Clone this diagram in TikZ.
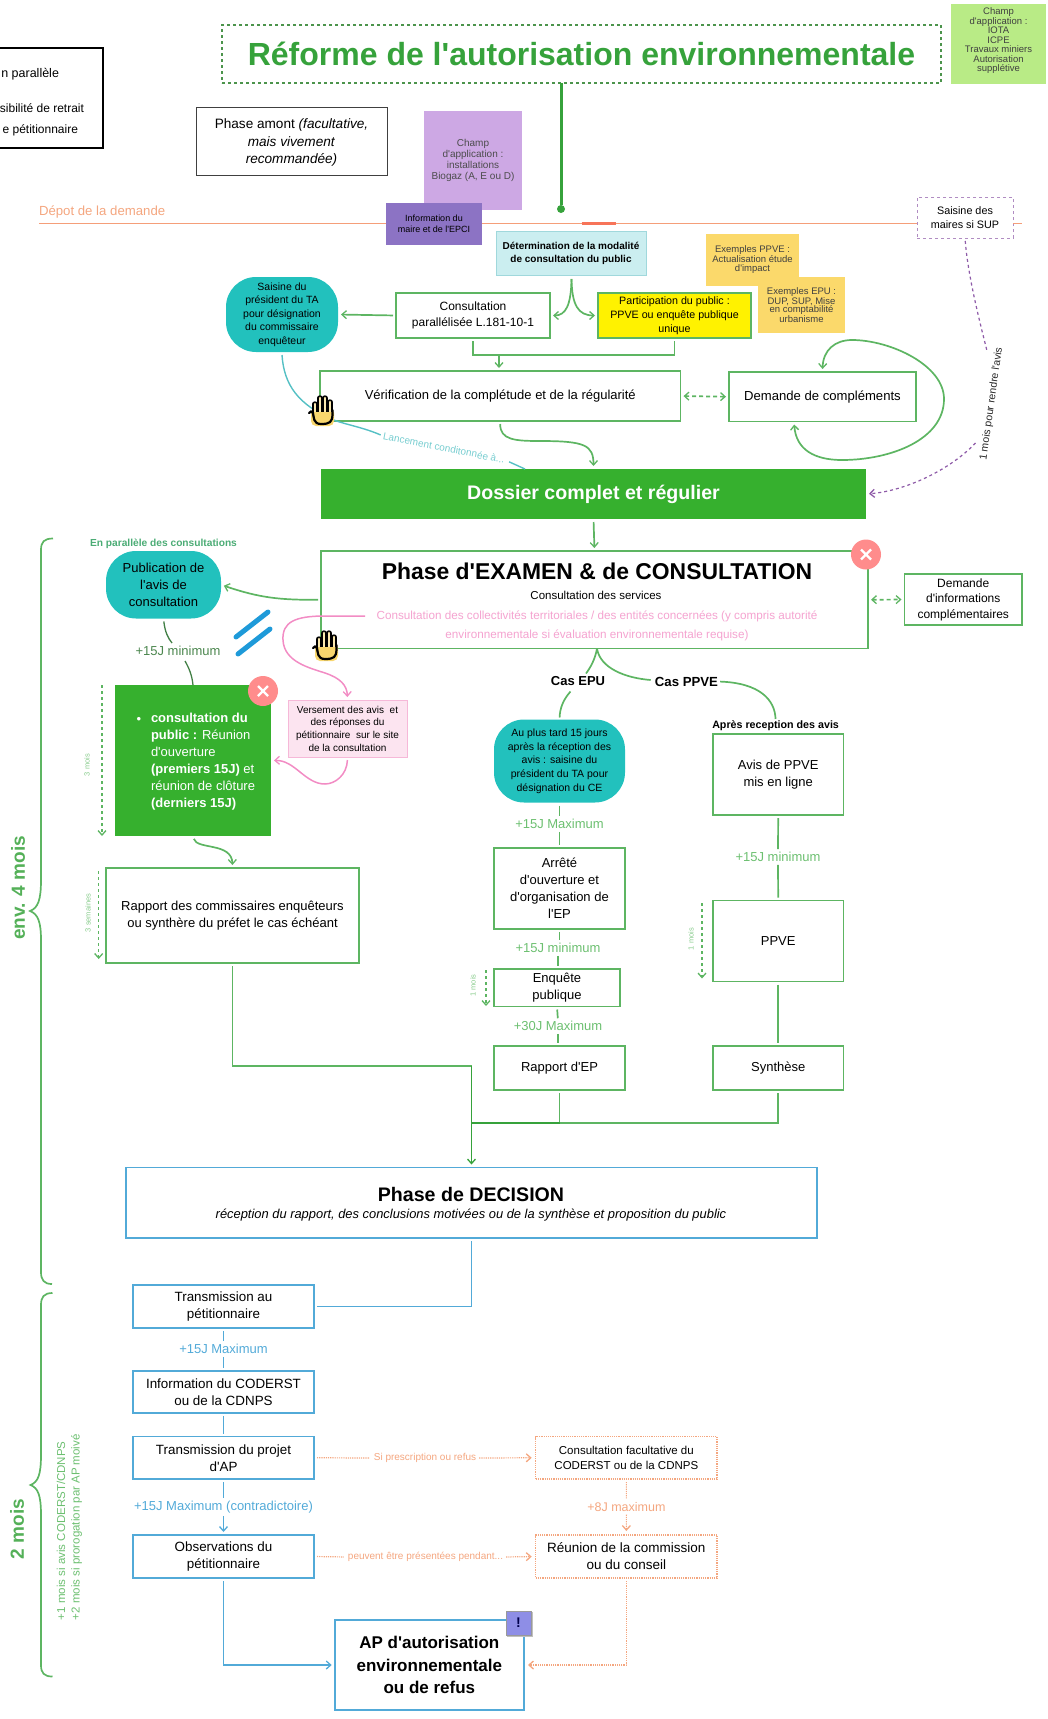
\documentclass[tikz,border=0pt]{standalone}
\usepackage{fontspec}
\setmainfont{Liberation Sans}[Ligatures=TeXOff]
\usetikzlibrary{arrows.meta,calc}
\definecolor{gl}{HTML}{5DB562}
\definecolor{gt}{HTML}{36A23B}
\definecolor{gf}{HTML}{36B02E}
\definecolor{gtx}{HTML}{6CBF70}
\definecolor{bl}{HTML}{52AAD8}
\definecolor{ol}{HTML}{F4A67F}
\definecolor{pk}{HTML}{F28CC4}
\definecolor{te}{HTML}{22C1BD}
\definecolor{tl}{HTML}{55C0C4}
\definecolor{pu}{HTML}{8E5BA8}
\definecolor{hy}{HTML}{F8D66D}
\newcommand\fz[2]{\fontsize{#1}{#2}\selectfont}
\newcommand\bx[7]{\pgfmathsetmacro\bxw{#5-#3}\pgfmathsetmacro\bxh{#6-#4}\pgfmathsetmacro\bxx{(#3+#5)/2}\pgfmathsetmacro\bxy{(#4+#6)/2}\node[#1,minimum width=\bxw pt,minimum height=\bxh pt] (#2) at (\bxx,\bxy) {#7};}
\tikzset{
  x=1pt,y=-1pt,
  every node/.style={inner sep=0pt,outer sep=0pt,align=center,text=black},
  >={Straight Barb[length=4.5pt,width=8pt,line width=1.3pt]},
  gbox/.style={draw=gl,line width=1.7pt,fill=white,font=\fz{13}{17}},
  bbox/.style={draw=bl,line width=1.7pt,fill=white,font=\fz{13.4}{17}},
  obox/.style={draw=ol,line width=1.2pt,densely dotted,fill=white,font=\fz{13.5}{17}},
  teal blob/.style={fill=te,rounded corners=30pt},
  gc/.style={draw=gl,line width=1.7pt},
  ga/.style={gc,->,shorten >=3pt,shorten <=3pt},
  gdash/.style={draw=gl,line width=1.3pt,dashed,dash pattern=on 3pt off 3pt,->},
  bc/.style={draw=bl,line width=1.8pt},
  oc/.style={draw=ol,line width=1.2pt,densely dotted},
  pc/.style={draw=pk,line width=1.5pt},
  gtime/.style={text=gtx,font=\fz{13}{14}},
  gsmall/.style={text=gtx!80,font=\fz{7.5}{8},rotate=90},
  btime/.style={text=bl,font=\fz{13}{14}},
  otime/.style={text=ol,font=\fz{10}{11}},
  redx/.style={circle,fill=red!45!white,minimum size=30pt},
  hand/.pic={
    \fill[hy,rounded corners=5pt] (-10,-2) rectangle (13,16);
    \foreach \hx/\hs in {-6/-6,-1/-12,4/-12,9/-8}{
      \draw[black,line width=5.4pt,line cap=round] (\hx,\hs) -- (\hx,4);
      \draw[hy!55!white,line width=2.6pt,line cap=round] (\hx,\hs) -- (\hx,4);
    }
    \fill[hy] (-8,2) rectangle (11,11);
    \draw[black,line width=2.2pt,line cap=round] (-12,3) .. controls (-11,1) and (-9,1) .. (-8,3) .. controls (-7,7) and (-8,14) .. (0,14) .. controls (9,14) and (11,12) .. (11.5,5) -- (11.5,0);
  }
}
\begin{document}
\begin{tikzpicture}
\useasboundingbox (0,0) rectangle (1048,1719);
% top
\bx{draw=black,line width=1.5pt}{legend}{-5}{48}{103}{148}{}
\node[anchor=east,font=\fz{12.5}{14},text=black] (leg1) at (59,74) {n parallèle};
\node[anchor=east,font=\fz{12}{14},text=black] (leg2) at (84,108) {sibilité de retrait};
\node[anchor=east,font=\fz{12}{14},text=black] (leg3) at (78,130) {e pétitionnaire};
\bx{draw=black!60!green!70,line width=1.2pt,dashed,dash pattern=on 3pt off 3pt,font=\fz{32}{34}\bfseries,text=gt}{title}{222}{25}{941}{83}{Réforme de l'autorisation environnementale}
\bx{fill={rgb,255:red,185;green,235;blue,134}}{champa}{951}{4}{1046}{84}{}
\node[font=\fz{9.5}{9.5},text=black!75] (champt) at (998.5,41) {Champ\\d'application :\\IOTA\\ICPE\\Travaux miniers\\Autorisation\\supplétive};
\bx{draw=black!75,line width=1pt}{amont}{196}{107}{387}{175}{}
\node[font=\fz{13.6}{17.2}] (amontt) at (291.5,142.5) {Phase amont \textit{(facultative,}\\\textit{mais vivement}\\\textit{recommandée)}};
\bx{fill={rgb,255:red,205;green,168;blue,228},font=\fz{10}{11},text=black!70}{champb}{424}{111}{522}{210}{Champ\\d'application :\\installations\\Biogaz (A, E ou D)}
\node[anchor=west,text=ol,font=\fz{13.2}{15}] (depot) at (39,212) {Dépot de la demande};
\coordinate (depl) at (39,223.5);
\coordinate (depr) at (1022,223.5);
\coordinate (depa) at (581.5,223.5);
\coordinate (depb) at (616,223.5);
\bx{fill={rgb,255:red,140;green,115;blue,196},font=\fz{9}{11.5},text=black}{infom}{386}{203}{482}{245}{Information du\\maire et de l'EPCI}
\bx{draw=pu!70,line width=1pt,dashed,dash pattern=on 3pt off 3pt,font=\fz{10.8}{14},fill=white}{saism}{917}{197}{1013}{238}{Saisine des\\maires si SUP}
\draw[draw=ol!95!red,line width=1.9pt] (depl) -- (infom.west |- depl) (infom.east |- depl) -- (saism.west |- depl) (saism.east |- depl) -- (depr);
\draw[draw=ol!70!red,line width=2.2pt] (depa) -- (depb);
\node[circle,fill=gt,minimum size=8pt] (dotn) at (561,209) {};
\draw[draw=gt,line width=3pt] (title.south -| dotn) -- (dotn);
\bx{fill={rgb,255:red,203;green,238;blue,240},draw={rgb,255:red,160;green,216;blue,220},line width=1pt,font=\fz{10}{13}\bfseries}{deter}{496}{231}{646}{275}{Détermination de la modalité\\de consultation du public}
\bx{fill={rgb,255:red,251;green,217;blue,107},font=\fz{9.5}{9.5},text=black!75}{exppve}{706}{234}{799}{286}{Exemples PPVE :\\Actualisation étude\\d'impact}
\bx{fill={rgb,255:red,251;green,217;blue,107},font=\fz{9.5}{8.7},text=black!75}{exepu}{758}{277}{845}{333}{Exemples EPU :\\DUP, SUP, Mise\\en comptabilité\\urbanisme}
\bx{fill={rgb,255:red,255;green,242;blue,0},draw=gl,line width=1.7pt,font=\fz{10.7}{14}}{part}{598}{293}{751}{338}{Participation du public :\\PPVE ou enquête publique\\unique}
\bx{gbox,font=\fz{12}{16}}{consu}{396}{293}{550}{338}{Consultation\\parallélisée L.181-10-1}
\bx{teal blob,font=\fz{10.5}{13.5}}{saita}{226}{277}{338}{352}{Saisine du\\président du TA\\pour désignation\\du commissaire\\enquêteur}
\draw[ga] (consu.west) -- (saita.east);
\coordinate (ds) at (571.5,279);
\draw[ga,shorten <=0pt] (ds) .. controls (571,305) and (566,315.5) .. (consu.east);
\draw[ga,shorten <=0pt] (ds) .. controls (572,305) and (578,315.5) .. (part.west);
\bx{gbox}{verif}{320}{371}{680.5}{421}{Vérification de la complétude et de la régularité}
\bx{gbox,font=\fz{13.1}{16}}{demc}{729}{372}{916}{421.5}{Demande de compléments}
\coordinate (vj) at (499,355);
\draw[gc,shorten <=3pt] (consu.south) |- (vj);
\draw[gc,shorten >=3pt] (vj) -| (part.south);
\draw[ga,shorten <=0pt] (vj) -- (verif.north -| vj);
\draw[gc,dashed,dash pattern=on 4pt off 3pt,<->,shorten >=3pt,shorten <=3pt] (verif.east) -- (demc.west);
\coordinate (lb) at (794,421.5);
\draw[gc,<->,shorten >=3pt,shorten <=3pt] (lb) .. controls (796,450) and (815,460) .. (842,460) .. controls (890,460) and (944,440) .. (944,399) .. controls (944,365) and (890,340) .. (852,340) .. controls (835,340) and (823,350) .. (demc.north);
\bx{fill=gf,font=\fz{19.6}{21}\bfseries,text=white}{dossier}{321}{469}{866}{519}{\raisebox{-1.5pt}{Dossier complet et régulier}}
\draw[ga] (verif.south) .. controls (500,440) and (515,441) .. (540,441) .. controls (585,441) and (593.5,445) .. (dossier.north);
\node[rotate=-11,text=tl!80,font=\fz{10}{11}] (lanc) at (444,448) {Lancement conditonnée à...};
\coordinate (tlend) at (525,469);
\draw[draw=tl,line width=1.4pt,shorten >=3pt] (saita.south) ++(0,3) .. controls (284,385) and (298,405) .. (335,420.5) .. controls (348,425) and (365,428) .. (lanc.west);
\draw[draw=tl,line width=1.4pt,shorten <=5pt] (lanc.east) -- (tlend);
\path (321,410) pic {hand};
\coordinate (pd1) at (987,351);
\coordinate (pd2) at (975.5,443);
\node[rotate=82,font=\fz{10.5}{11},text=black!85] (mois) at (991.5,404) {1 mois pour rendre l'avis};
\draw[draw=pu,line width=1.2pt,dashed,dash pattern=on 3pt off 3pt,shorten <=3pt] (saism.south) .. controls (968,275) and (978,315) .. (pd1);
\draw[draw=pu,line width=1.2pt,dashed,dash pattern=on 3pt off 3pt,->,shorten >=3pt] (pd2) .. controls (950,470) and (905,491) .. (dossier.east);
% phase examen
\node[text=gtx!70!teal,font=\fz{10.2}{11}\bfseries] (enpar) at (163.5,544) {En parallèle des consultations};
\bx{teal blob,font=\fz{13}{17}}{pub}{106}{551}{221}{618.5}{Publication de\\l'avis de\\consultation}
\bx{gbox}{phase}{321}{551}{868}{648.5}{}
\node[font=\fz{22.9}{24}\bfseries] (phtit) at (597,571) {Phase d'EXAMEN \& de CONSULTATION};
\node[font=\fz{11.5}{14}] (phsub) at (596,595) {Consultation des services};
\node[font=\fz{11.7}{19.5},text=pk!80] (phpink) at (597,626) {Consultation des collectivités territoriales / des entités concernées (y compris autorité\\environnementale si évaluation environnementale requise)};
\bx{gbox,font=\fz{12}{15.5}}{dinfo}{904.5}{574}{1022}{625}{Demande\\d'informations\\complémentaires}
\draw[gc,dashed,dash pattern=on 4pt off 3pt,<->,shorten >=3pt,shorten <=3pt] (phase.east) -- (dinfo.west);
\draw[ga] (dossier.south) -- (phase.north);
\draw[ga] (phase.west) .. controls (280,600) and (260,598) .. (pub.east);
\node[text=gtx!70!black,font=\fz{13}{15}] (l15a) at (178,651) {+15J minimum};
\coordinate (la1) at (172,643);
\coordinate (la2) at (185,661);
\bx{fill=gf}{cons}{115}{685}{271}{836}{}
\node[text=white,anchor=north west,align=left,font=\fz{13}{16.9}] (constx) at (151,713.5) {\textbf{consultation du}\\\textbf{public :} Réunion\\d'ouverture\\\textbf{(premiers 15J)} et\\réunion de clôture\\\textbf{(derniers 15J)}};
\node[text=white,font=\fz{13}{15}] (consbul) at (139,720) {•};
\draw[draw=gl!70!black,line width=1.3pt,shorten <=3pt] (pub.south) .. controls (165,632) and (168,638) .. (la1);
\draw[draw=gl!70!black,line width=1.3pt] (la2) .. controls (189,668) and (192,675) .. (cons.north);
\coordinate (sl1a) at (236,637);\coordinate (sl1b) at (268,612);\coordinate (sl2a) at (238,654);\coordinate (sl2b) at (270,629);
\draw[draw={rgb,255:red,30;green,154;blue,217},line width=5pt,line cap=round] (sl1a) -- (sl1b) (sl2a) -- (sl2b);
\coordinate (pks) at (365,616);
\bx{fill={rgb,255:red,252;green,228;blue,240},draw={rgb,255:red,246;green,184;blue,216},line width=1pt,font=\fz{10}{12.7}}{vers}{288}{700}{407}{757}{Versement des avis\ \ et\\des réponses du\\pétitionnaire\ \ sur le site\\de la consultation}
\draw[pc,->,shorten >=3pt] (pks) -- (325,616) .. controls (295,616) and (282,622) .. (283,640) .. controls (284,662) and (310,668) .. (325,673) .. controls (340,678) and (347,685) .. (vers.north);
\draw[pc,->,shorten >=3pt,shorten <=3pt] (vers.south) .. controls (347,775) and (335,784) .. (325,784) .. controls (305,784) and (295,760) .. (cons.east);
\path (325,645) pic {hand};
\node[redx] (rx1) at (866,554.5) {};
\node[redx] (rx2) at (263,691) {};
\foreach \rn in {rx1,rx2}{
 \draw[white,line width=2.2pt] ([shift={(-5,-5)}]\rn.center) -- ([shift={(5,5)}]\rn.center) ([shift={(-5,5)}]\rn.center) -- ([shift={(5,-5)}]\rn.center);
}
\bx{gbox}{rap}{106}{868}{359}{963}{Rapport des commissaires enquêteurs\\ou synthère du préfet le cas échéant}
\draw[ga] (cons.south) .. controls (197,850) and (232,842) .. (rap.north);
\coordinate (d3a) at (102,685);
\draw[gdash] (d3a) -- (d3a |- cons.south);
\node[gsmall] (t3m) at (87,765) {3 mois};
\coordinate (d3s) at (98.7,871);
\coordinate (d3e) at (98.7,959);
\draw[gdash] (d3s) -- (d3e);
\node[gsmall] (t3s) at (88,913) {3 semaines};
% center columns
\coordinate (pj) at (597,648.5);
\node[font=\fz{13}{14}\bfseries] (case) at (578,681.5) {Cas EPU};
\node[font=\fz{13.2}{14}\bfseries] (casp) at (686.5,681.5) {Cas PPVE};
\node[font=\fz{10.7}{12}\bfseries] (apres) at (775.6,726) {Après reception des avis};
\bx{teal blob,font=\fz{10.5}{13.7}}{epu}{494}{719.5}{625}{802.5}{Au plus tard 15 jours\\après la réception des\\avis : saisine du\\président du TA pour\\désignation du CE}
\coordinate (ce1) at (586,673.5);
\coordinate (ce2) at (570.5,691.5);
\coordinate (cp1) at (650.7,680);
\draw[gc] (pj) .. controls (595,660) and (590,668) .. (ce1);
\draw[gc] (pj) .. controls (600,668) and (625,678) .. (cp1);
\draw[gc,shorten <=2pt,shorten >=2pt] (casp.east) .. controls (760,683) and (775,700) .. (apres.north);
\draw[gc,shorten >=2pt] (ce2) .. controls (563,700) and (560,708) .. (epu.north);
\bx{gbox}{avis}{713}{734}{843.4}{815}{Avis de PPVE\\mis en ligne}
\bx{gbox}{arr}{494}{848}{625}{929}{Arrêté\\d'ouverture et\\d'organisation de\\l'EP}
\bx{gbox}{enq}{494}{969}{620}{1006.5}{Enquête\\publique}
\bx{gbox}{repp}{494}{1046}{625}{1090}{Rapport d'EP}
\bx{gbox}{ppve}{713}{900.5}{843.4}{981.5}{PPVE}
\bx{gbox}{synth}{713}{1046}{843.4}{1090}{Synthèse}
\node[gtime] (t15x) at (559.5,824) {+15J Maximum};
\node[gtime] (t15m) at (558,948) {+15J minimum};
\node[gtime] (t30x) at (558,1026) {+30J Maximum};
\node[gtime] (t15p) at (778,857) {+15J minimum};
\tikzset{gg/.style={gc,shorten >=3pt,shorten <=3pt}}
\draw[gg] (epu.south) -- (t15x.north);
\draw[gg] (t15x.south) -- (arr.north);
\draw[gg] (arr.south) -- (t15m.north -| arr.south);
\draw[gg] (t15m.south) -- (enq.north -| t15m.south);
\draw[gg] (enq.south) -- (t30x.north);
\draw[gg] (t30x.south) -- (repp.north -| t30x.south);
\draw[gg] (avis.south) -- (t15p.north);
\draw[gg] (t15p.south) -- (ppve.north);
\draw[gg] (ppve.south) -- (synth.north);
\coordinate (dp1) at (486,970);
\coordinate (dp1e) at (486,1006);
\draw[gdash] (dp1) -- (dp1e);
\node[gsmall] (t1a) at (473,985.5) {1 mois};
\coordinate (dp2) at (702,903);
\coordinate (dp2e) at (702,978.5);
\draw[gdash] (dp2) -- (dp2e);
\node[gsmall] (t1b) at (691,939) {1 mois};
% decision
\bx{bbox}{dec}{126}{1167.5}{817}{1238}{}
\node[font=\fz{19.6}{20}\bfseries] (dect) at (471,1194.6) {Phase de DECISION};
\node[font=\fz{12.9}{14}\itshape] (decs) at (471,1215) {réception du rapport, des conclusions motivées ou de la synthèse et proposition du public};
\coordinate (jn) at (471.5,1066);
\coordinate (jn2) at (471.5,1123);
\draw[gc,shorten <=3pt] (rap.south) |- (jn);
\draw[draw=gt,line width=1.7pt,->,shorten >=3pt] (jn) -- (dec.north);
\draw[gc,shorten <=3pt] (repp.south) |- (jn2);
\draw[gc,shorten <=3pt] (synth.south) |- (jn2);
\draw[draw=gt,line width=1.9pt] (jn2) -- (repp.south |- jn2);
\bx{bbox}{trans}{133}{1285}{314}{1328}{Transmission au\\pétitionnaire}
\bx{bbox}{info}{133}{1371}{314}{1413}{Information du CODERST\\ou de la CDNPS}
\bx{bbox}{proj}{133}{1436.5}{314}{1479}{Transmission du projet\\d'AP}
\bx{bbox}{obs}{133}{1535}{314}{1578}{Observations du\\pétitionnaire}
\bx{obox,font=\fz{11.5}{14.7}}{consf}{535.7}{1436.5}{717}{1479}{Consultation facultative du\\CODERST ou de la CDNPS}
\bx{obox}{reun}{535.7}{1535}{717}{1578}{Réunion de la commission\\ou du conseil}
\bx{bbox,font=\fz{17}{22.7}\bfseries}{ap}{334.7}{1620}{524}{1710}{AP d'autorisation\\environnementale\\ou de refus}
\node[btime] (b15) at (223.5,1349) {+15J Maximum};
\node[btime] (b15c) at (223.5,1507) {+15J Maximum (contradictoire)};
\node[otime] (osi) at (425,1458) {Si prescription ou refus};
\node[otime] (ope) at (425.5,1557) {peuvent être présentées pendant...};
\node[text=ol,font=\fz{12.5}{14}] (o8) at (626.4,1507) {+8J maximum};
\tikzset{bb/.style={bc,shorten >=3pt,shorten <=3pt}}
\draw[bb] (dec.south) |- (trans.east);
\draw[bb] (trans.south) -- (b15.north);
\draw[bb] (b15.south) -- (info.north);
\draw[bb] (info.south) -- (proj.north);
\draw[bb] (proj.south) -- (b15c.north);
\draw[bb,->] (b15c.south) -- (obs.north);
\draw[bb,->] (obs.south) |- (ap.west);
\tikzset{oo/.style={oc,shorten >=4pt,shorten <=3pt}}
\draw[oo] (proj.east) -- (osi.west);
\draw[oo,->] (osi.east) -- (consf.west);
\draw[oo] (obs.east) -- (ope.west);
\draw[oo,->] (ope.east) -- (reun.west);
\draw[oo] (consf.south) -- (o8.north);
\draw[oo,->] (o8.south) -- (reun.north);
\draw[oo,->] (reun.south) |- (ap.east);
\bx{fill=black!25,draw=none}{exs}{507}{1612}{533}{1637}{}
\bx{fill={rgb,255:red,142;green,142;blue,230},draw=black!40,line width=.5pt,font=\fz{14}{15}\bfseries,text=blue!30!black}{exc}{506}{1611}{531}{1635}{!}
% braces
\draw[gc] (53,538.5) .. controls (44,538.5) and (41,542) .. (41,550) -- (41,880) .. controls (41,900) and (38,908) .. (30,911) .. controls (38,914) and (41,922) .. (41,940) -- (41,1272) .. controls (41,1280) and (44,1284) .. (52,1284);
\draw[gc] (52.5,1293) .. controls (44,1293) and (41,1297) .. (41,1305) -- (41,1455) .. controls (41,1475) and (38,1482) .. (30.5,1485) .. controls (38,1488) and (41,1495) .. (41,1515) -- (41,1665) .. controls (41,1673) and (44,1676.5) .. (52.5,1676.5);
\node[rotate=90,font=\fz{19}{21}\bfseries,text=gt!85!white] (env) at (18,888) {env. 4 mois};
\node[rotate=90,font=\fz{19}{21}\bfseries,text=gt!85!white] (dmois) at (17,1529) {2 mois};
\node[rotate=90,anchor=west,text=gtx,font=\fz{11.5}{13}] (pl1) at (61,1620) {+1 mois si avis CODERST/CDNPS};
\node[rotate=90,anchor=west,text=gtx,font=\fz{11.5}{13}] (pl2) at (76.5,1620) {+2 mois si prorogation par AP moivé};
\end{tikzpicture}
\end{document}
